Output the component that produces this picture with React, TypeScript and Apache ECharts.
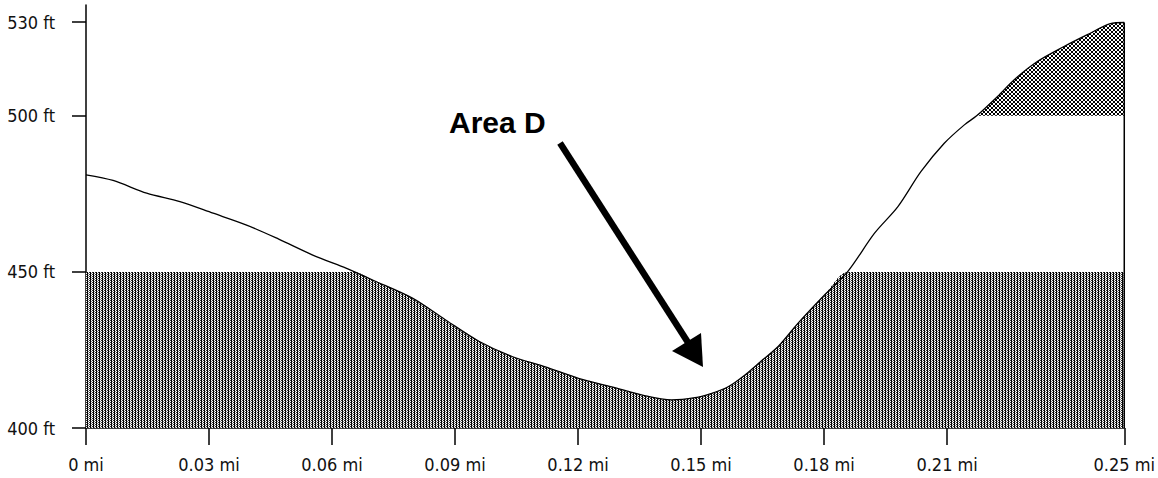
import React, { useEffect, useRef } from "react";
import * as echarts from "echarts";

// Distance along the profile (miles) and elevation (feet)
const distMi = [
  0, 0.0066, 0.0148, 0.0229, 0.031, 0.039, 0.047, 0.0553, 0.0634, 0.0655, 0.0699,
  0.0796, 0.0877, 0.0958, 0.1039, 0.112, 0.1201, 0.1282, 0.1364, 0.1428, 0.1485,
  0.1526, 0.1566, 0.1607, 0.1647, 0.1688, 0.1736, 0.1801, 0.1857, 0.1923, 0.198,
  0.2036, 0.2093, 0.2142, 0.2172, 0.2223, 0.2263, 0.232, 0.2385, 0.2442, 0.2498, 0.2532,
];
const elevFt = [
  481.1, 479.3, 475.2, 472.5, 468.8, 465.1, 460.5, 455.4, 451.2, 450.0, 447.4,
  441.6, 434.6, 427.8, 422.9, 419.6, 415.9, 413.2, 410.3, 409.0, 409.7,
  411.1, 413.2, 417.0, 421.5, 426.1, 433.5, 442.6, 450.0, 462.4, 470.9,
  482.1, 491.2, 497.1, 500.0, 506.2, 511.5, 517.4, 522.2, 526.0, 529.5, 529.9,
];

const xTickValues = [0, 0.03, 0.06, 0.09, 0.12, 0.15, 0.18, 0.21, 0.2532];
const xTickLabels = ["0 mi", "0.03 mi", "0.06 mi", "0.09 mi", "0.12 mi", "0.15 mi", "0.18 mi", "0.21 mi", "0.25 mi"];
const yTickValues = [400, 450, 500, 530];
const yTickLabels = ["400 ft", "450 ft", "500 ft", "530 ft"];

const lowerCap = 450;
const upperBase = 500;
const annotationText = "Area D";

function makeTile(w: number, h: number, fn: (x: number, y: number) => string) {
  const c = document.createElement("canvas");
  c.width = w;
  c.height = h;
  const ctx = c.getContext("2d")!;
  for (let y = 0; y < h; y++) {
    for (let x = 0; x < w; x++) {
      ctx.fillStyle = fn(x, y);
      ctx.fillRect(x, y, 1, 1);
    }
  }
  return c;
}

const FONT = "'Liberation Sans Narrow', 'Arial Narrow', 'DejaVu Sans Condensed', sans-serif";
const SMOOTH = 0.3;

export default function App() {
  const ref = useRef<HTMLDivElement>(null);

  useEffect(() => {
    if (!ref.current) return;
    const chart = echarts.init(ref.current, undefined, { renderer: "svg" });

    const stripeRows = [
      ["#000000", "#ffffff", "#333333"],
      ["#000000", "#888888", "#ffffff"],
    ];
    const stripeTile = makeTile(3, 2, (x, y) => stripeRows[y][x]);
    const crossTile = makeTile(4, 4, (x, y) => (x === y || x === 3 - y ? "#000000" : "#ffffff"));

    const lowerData = distMi.map((d, i) => [d, Math.min(elevFt[i], lowerCap)]);
    const upperIdx = distMi.map((_, i) => i).filter((i) => elevFt[i] >= upperBase);
    const upperTopData = upperIdx.map((i) => [distMi[i], elevFt[i]]);
    // the white mask starts one sample earlier so no edge seam is left
    const maskIdx = [upperIdx[0] - 1, ...upperIdx];
    const upperMaskData = maskIdx.map((i) => [distMi[i], upperBase]);
    const profileData = distMi.map((d, i) => [d, elevFt[i]]);
    const lastX = distMi[distMi.length - 1];
    const lastY = elevFt[elevFt.length - 1];

    const xLabel = (v: number) => {
      const idx = xTickValues.findIndex((t) => Math.abs(t - v) < 1e-6);
      return idx >= 0 ? xTickLabels[idx] : "";
    };
    const yLabel = (v: number) => {
      const idx = yTickValues.findIndex((t) => Math.abs(t - v) < 1e-6);
      return idx >= 0 ? yTickLabels[idx] : "";
    };

    const areaLine = { width: 0, opacity: 0 };

    chart.setOption({
      animation: false,
      backgroundColor: "#ffffff",
      grid: { left: 86, right: 31, top: 5, bottom: 50, containLabel: false },
      xAxis: {
        type: "value",
        min: 0,
        max: lastX,
        splitLine: { show: false },
        axisLine: { show: true, onZero: false, lineStyle: { color: "#000", width: 1.5 } },
        axisTick: { show: true, length: 17, customValues: xTickValues, lineStyle: { color: "#000", width: 1.5 } },
        axisLabel: {
          customValues: xTickValues,
          formatter: xLabel,
          margin: 27,
          color: "#111",
          fontSize: 18,
          fontFamily: FONT,
          showMaxLabel: true,
          showMinLabel: true,
          hideOverlap: false,
        },
      },
      yAxis: {
        type: "value",
        min: 400,
        max: 535.5,
        splitLine: { show: false },
        axisLine: { show: true, onZero: false, lineStyle: { color: "#000", width: 1.5 } },
        axisTick: { show: true, length: 14, customValues: yTickValues, lineStyle: { color: "#000", width: 1.5 } },
        axisLabel: {
          customValues: yTickValues,
          formatter: yLabel,
          margin: 31,
          color: "#111",
          fontSize: 18,
          fontFamily: FONT,
        },
      },
      series: [
        {
          type: "line",
          data: upperTopData,
          symbol: "none",
          smooth: SMOOTH,
          lineStyle: areaLine,
          areaStyle: { color: { image: crossTile, repeat: "repeat", imageWidth: 4, imageHeight: 4 }, opacity: 1, origin: "start" },
          z: 1,
          silent: true,
        },
        {
          type: "line",
          data: upperMaskData,
          symbol: "none",
          lineStyle: areaLine,
          areaStyle: { color: "#ffffff", opacity: 1, origin: "start" },
          z: 1,
          silent: true,
        },
        {
          type: "line",
          data: lowerData,
          symbol: "none",
          smooth: SMOOTH,
          lineStyle: areaLine,
          areaStyle: { color: { image: stripeTile, repeat: "repeat", imageWidth: 3, imageHeight: 2 }, opacity: 1, origin: "start" },
          z: 1,
          silent: true,
        },
        {
          type: "line",
          data: profileData,
          symbol: "none",
          smooth: SMOOTH,
          lineStyle: { color: "#000", width: 1.3 },
          z: 3,
          silent: true,
        },
        {
          type: "line",
          data: [
            [lastX, 400],
            [lastX, lastY],
          ],
          symbol: "none",
          lineStyle: { color: "#000", width: 1.5 },
          z: 3,
          silent: true,
        },
      ],
      graphic: [
        {
          type: "text",
          x: 449,
          y: 122.5,
          style: {
            text: annotationText,
            font: "bold 30px 'Liberation Sans', Arial, sans-serif",
            fill: "#000",
            textAlign: "left",
            textVerticalAlign: "middle",
          },
          z: 10,
        },
        {
          type: "line",
          shape: { x1: 560, y1: 143, x2: 689, y2: 344 },
          style: { stroke: "#000", lineWidth: 6.5 },
          z: 10,
        },
        {
          type: "polygon",
          shape: {
            points: [
              [703, 367],
              [672, 351],
              [701, 333],
            ],
          },
          style: { fill: "#000" },
          z: 10,
        },
      ],
    });

    return () => chart.dispose();
  }, []);

  return (
    <div
      ref={ref}
      style={{ position: "fixed", left: 0, top: 0, width: 1158, height: 478, background: "#fff" }}
    />
  );
}
